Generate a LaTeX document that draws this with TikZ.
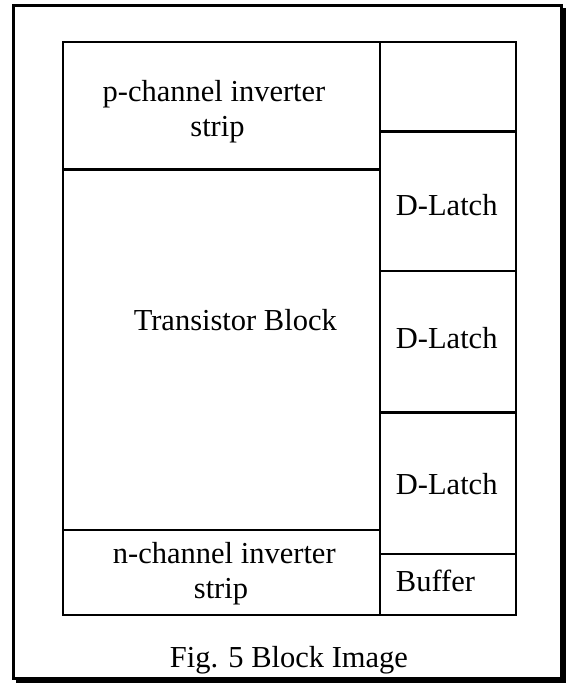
\documentclass[tikz,border=0pt]{standalone}
\usepackage{fontspec}
\setmainfont{Liberation Serif}
\begin{document}
\begin{tikzpicture}[x=1pt,y=-1pt,
  frameline/.style={line width=3pt},
  blockbox/.style={draw,line width=2.6pt,inner sep=0pt,anchor=north west},
  lbl/.style={inner sep=0pt,anchor=base,font=\fontsize{30.5}{35}\selectfont}]
\useasboundingbox (0,0) rectangle (567,683);
% outer frame with its drop shadow
\draw[frameline] (13.5,5.5) rectangle (561.5,678.5);
\draw[frameline] (564.5,8) -- (564.5,681.5) -- (16,681.5);
% left column
\node[blockbox,minimum width=317pt,minimum height=127.3pt] (pstrip) at (61.5,40.7) {};
\node[blockbox,minimum width=317pt,minimum height=360.7pt] (tblock) at (61.5,168) {};
\node[blockbox,minimum width=317pt,minimum height=84.8pt] (nstrip) at (61.5,528.7) {};
% right column
\node[blockbox,minimum width=136pt,minimum height=89.3pt] (spare) at (378.5,40.7) {};
\node[blockbox,minimum width=136pt,minimum height=139.5pt] (latchA) at (378.5,130) {};
\node[blockbox,minimum width=136pt,minimum height=141.5pt] (latchB) at (378.5,269.5) {};
\node[blockbox,minimum width=136pt,minimum height=141.5pt] (latchC) at (378.5,411) {};
\node[blockbox,minimum width=136pt,minimum height=61pt] (buffer) at (378.5,552.5) {};
% labels
\node[lbl] (ptxtA) at (214,101.7) {p-channel inverter};
\node[lbl] (ptxtB) at (217.5,136.7) {strip};
\node[lbl] (ttxt) at (235.3,330) {Transistor Block};
\node[lbl] (ntxtA) at (224.3,563.3) {n-channel inverter};
\node[lbl] (ntxtB) at (221,598.3) {strip};
\node[lbl] (ltxtA) at (446.7,215) {D-Latch};
\node[lbl] (ltxtB) at (446.7,348.3) {D-Latch};
\node[lbl] (ltxtC) at (446.7,494) {D-Latch};
\node[lbl] (btxt) at (435.5,591.7) {Buffer};
\node[lbl] (caption) at (289,667.7) {Fig. 5 Block Image};
\end{tikzpicture}
\end{document}
